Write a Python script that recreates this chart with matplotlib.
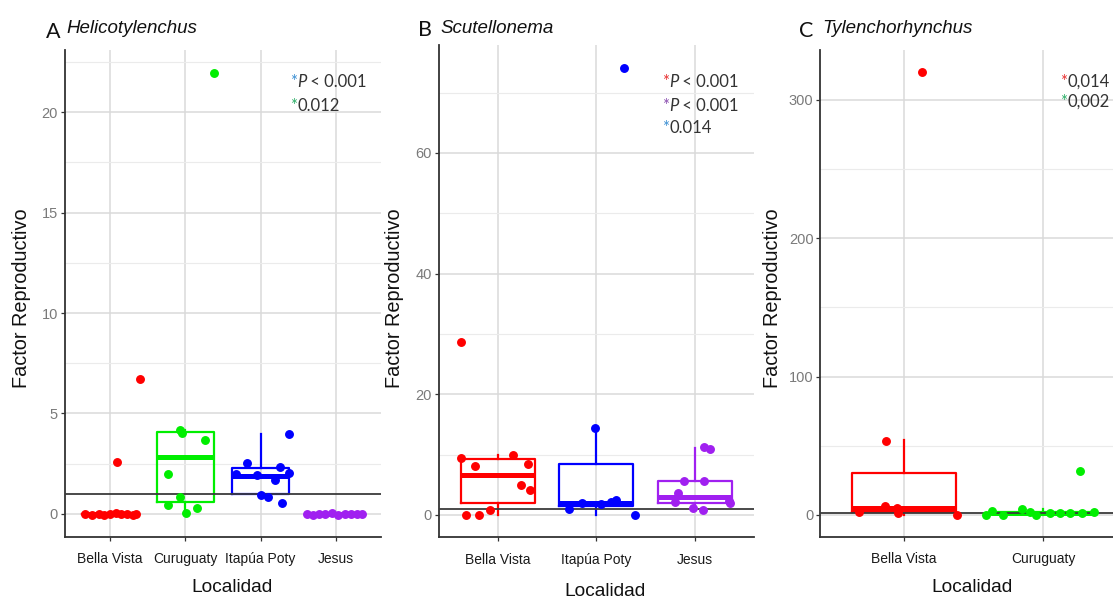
import matplotlib
matplotlib.use("Agg")
import matplotlib.pyplot as plt
from matplotlib.ticker import MultipleLocator

W, H = 1113, 599
fig = plt.figure(figsize=(W / 100, H / 100), dpi=100)

RED, GREEN, BLUE, PURPLE = "#FF0000", "#00EE00", "#0000FF", "#A020F0"

# ---------------- Panel A: Helicotylenchus ----------------
A_cats = ["Bella Vista", "Curuguaty", "Itapúa Poty", "Jesus"]
A_colors = [RED, GREEN, BLUE, PURPLE]
A_points_y = [
    [0, -0.05, 0.02, -0.03, 0, 0.03, -0.02, 0.01, -0.04, 0.02, 2.6, 6.7],
    [4.2, 4.05, 3.7, 2.0, 0.85, 0.45, 0.05, 0.3, 21.95],
    [2.51, 2.01, 2.34, 2.04, 1.68, 0.93, 0.82, 0.52, 3.96, 1.95],
    [0, -0.04, 0.02, -0.02, 0.03, -0.03, 0.01, -0.02, 0.02, 0],
]
A_points_dx = [
    [-0.33, -0.24, -0.14, -0.08, 0.0, 0.08, 0.15, 0.23, 0.30, 0.34, 0.09, 0.40],
    [-0.07, -0.05, 0.26, -0.23, -0.07, -0.23, 0.01, 0.15, 0.38],
    [-0.18, -0.33, 0.26, 0.38, 0.19, 0.01, 0.10, 0.28, 0.38, -0.05],
    [-0.38, -0.30, -0.22, -0.14, -0.05, 0.03, 0.12, 0.20, 0.28, 0.35],
]
# box stats: whislo, q1, med, q3, whishi
A_box = [
    [0, 0, 0, 0, 0],
    [0.05, 0.57, 2.82, 4.09, 4.2],
    [0.85, 0.97, 1.9, 2.31, 3.96],
    [0, 0, 0, 0, 0],
]
A_ylim = (-1.15, 23.1)
A_yticks = [0, 5, 10, 15, 20]
A_minor = 2.5

# ---------------- Panel B: Scutellonema ----------------
B_cats = ["Bella Vista", "Itapúa Poty", "Jesus"]
B_colors = [RED, BLUE, PURPLE]
B_points_y = [
    [28.6, 9.5, 8.2, 10.0, 8.4, 5.0, 4.2, 0.8, 0.0, 0.0],
    [14.4, 0.95, 2.5, 0.0, 74.1, 2.0, 1.8, 2.1],
    [11.2, 11.0, 5.6, 5.6, 3.7, 2.2, 2.3, 2.0, 1.1, 0.8],
]
B_points_dx = [
    [-0.375, -0.375, -0.23, 0.155, 0.31, 0.24, 0.33, -0.08, -0.32, -0.19],
    [-0.01, -0.28, 0.20, 0.39, 0.28, -0.15, 0.05, 0.15],
    [0.09, 0.15, -0.11, 0.09, -0.17, -0.20, 0.34, 0.35, -0.02, 0.08],
]
B_box = [
    [0.0, 1.94, 6.65, 9.36, 10.0],
    [0.0, 1.5, 2.05, 8.5, 14.4],
    [0.8, 1.94, 3.0, 5.65, 11.1],
]
B_ylim = (-3.7, 77.9)
B_yticks = [0, 20, 40, 60]
B_minor = 10

# ---------------- Panel C: Tylenchorhynchus ----------------
C_cats = ["Bella Vista", "Curuguaty"]
C_colors = [RED, GREEN]
C_points_y = [
    [53.7, 320, 6.5, 5.0, 2.0, 1.5, 0.0],
    [0.0, 3.0, 0.0, 4.5, 2.0, 0.0, 1.0, 2.0, 32.0, 1.5, 1.5, 1.0],
]
C_points_dx = [
    [-0.13, 0.13, -0.14, -0.05, -0.32, -0.04, 0.38],
    [-0.41, -0.37, -0.29, -0.155, -0.095, -0.05, 0.28, 0.36, 0.26, 0.05, 0.12, 0.19],
]
C_box = [
    [0.0, 2.4, 4.8, 30.1, 54.0],
    [0.0, 0.8, 1.6, 2.3, 4.5],
]
C_ylim = (-16, 336)
C_yticks = [0, 100, 200, 300]
C_minor = 50

THRESH = 1


def fpos(x, y):
    return x / W, 1 - y / H


def make_panel(rect_px, cats, colors, pts_y, pts_dx, box, ylim, yticks, minor):
    l, r, t, b = rect_px
    ax = fig.add_axes([l / W, (H - b) / H, (r - l) / W, (b - t) / H])
    n = len(cats)
    pos = list(range(1, n + 1))
    ax.set_xlim(0.4, n + 0.6)
    ax.set_ylim(*ylim)
    ax.set_yticks(yticks)
    ax.yaxis.set_minor_locator(MultipleLocator(minor))
    ax.set_xticks(pos)
    ax.set_xticklabels(cats)
    ax.grid(True, which="major", color="#DADADA", lw=1.1, zorder=0)
    ax.grid(True, which="minor", axis="y", color="#EBEBEB", lw=0.8, zorder=0)
    ax.tick_params(axis="y", which="minor", length=0)
    ax.tick_params(axis="y", which="major", length=3, width=0.9, color="#333333",
                   labelcolor="#7A7A7A", labelsize=10.5, pad=2)
    ax.tick_params(axis="x", length=3, width=0.9, color="#333333",
                   labelcolor="#1A1A1A", labelsize=10, pad=8)
    for lab in ax.get_xticklabels() + ax.get_yticklabels():
        lab.set_fontfamily("Liberation Sans")
    for s in ("top", "right"):
        ax.spines[s].set_visible(False)
    for s in ("left", "bottom"):
        ax.spines[s].set_color("#333333")
        ax.spines[s].set_linewidth(1.3)
    ax.set_axisbelow(True)
    for i in range(n):
        lo, q1, med, q3, hi = box[i]
        st = [dict(whislo=lo, q1=q1, med=med, q3=q3, whishi=hi, fliers=[])]
        c = colors[i]
        ax.bxp(st, positions=[pos[i]], widths=0.75, showcaps=False,
               showfliers=False, patch_artist=False,
               boxprops=dict(color=c, lw=1.6),
               whiskerprops=dict(color=c, lw=1.6),
               medianprops=dict(color=c, lw=3.6, solid_capstyle="butt"),
               manage_ticks=False)
        xs = [pos[i] + d for d in pts_dx[i]]
        ax.plot(xs, pts_y[i], "o", color=c, ms=5.4, mec=c, zorder=4, ls="none")
    ax.axhline(THRESH, color="#3A3A3A", lw=1.3, zorder=3)
    return ax


axA = make_panel((64.7, 381.2, 50, 537), A_cats, A_colors, A_points_y, A_points_dx,
                 A_box, A_ylim, A_yticks, A_minor)
axB = make_panel((438.5, 754.2, 45, 537.3), B_cats, B_colors, B_points_y, B_points_dx,
                 B_box, B_ylim, B_yticks, B_minor)
axC = make_panel((820.4, 1127, 50, 537), C_cats, C_colors, C_points_y, C_points_dx,
                 C_box, C_ylim, C_yticks, C_minor)

renderer = fig.canvas.get_renderer()


def seq_text(x, y, pieces, size=12, family="Lato"):
    for s, color, style in pieces:
        t = fig.text(*fpos(x, y), s, color=color, fontsize=size, family=family,
                     style=style, ha="left", va="center")
        x += t.get_window_extent(renderer).width


# Titles
fig.text(*fpos(46, 38), "A", fontsize=15.5, family="Lato", ha="left", va="baseline", color="#111111")
fig.text(*fpos(66, 33), "Helicotylenchus", fontsize=13.5, family="Liberation Sans",
         style="italic", ha="left", va="baseline", color="#111111")
fig.text(*fpos(418, 36), "B", fontsize=15.5, family="Lato", ha="left", va="baseline", color="#111111")
fig.text(*fpos(440, 33), "Scutellonema", fontsize=13.5, family="Liberation Sans",
         style="italic", ha="left", va="baseline", color="#111111")
fig.text(*fpos(799, 37), "C", fontsize=15.5, family="Lato", ha="left", va="baseline", color="#111111")
fig.text(*fpos(822, 33), "Tylenchorhynchus", fontsize=13.5, family="Liberation Sans",
         style="italic", ha="left", va="baseline", color="#111111")

# Axis labels
for xc in (22, 395, 772):
    fig.text(*fpos(xc, 298), "Factor Reproductivo", rotation=90, fontsize=14.3,
             family="Liberation Sans", ha="center", va="center", color="#111111")
for xc, yc in ((232, 588), (605, 592), (972, 588)):
    fig.text(*fpos(xc, yc), "Localidad", fontsize=13.8, family="Liberation Sans",
             ha="center", va="center", color="#111111")

# Significance annotations
TXT = "#333333"
STAR_BLUE, STAR_GREEN, STAR_RED, STAR_PURPLE = "#3B8FD3", "#2BAE66", "#E83030", "#8B4FB0"
seq_text(290, 82, [("*", STAR_BLUE, "normal"), ("P", TXT, "italic"), (" < 0.001", TXT, "normal")])
seq_text(290, 106, [("*", STAR_GREEN, "normal"), ("0.012", TXT, "normal")])
seq_text(662, 82, [("*", STAR_RED, "normal"), ("P", TXT, "italic"), (" < 0.001", TXT, "normal")])
seq_text(662, 106, [("*", STAR_PURPLE, "normal"), ("P", TXT, "italic"), (" < 0.001", TXT, "normal")])
seq_text(662, 128, [("*", STAR_BLUE, "normal"), ("0.014", TXT, "normal")])
seq_text(1060, 82, [("*", STAR_RED, "normal"), ("0,014", TXT, "normal")])
seq_text(1060, 102, [("*", STAR_GREEN, "normal"), ("0,002", TXT, "normal")])

fig.savefig("out.png", dpi=100)
